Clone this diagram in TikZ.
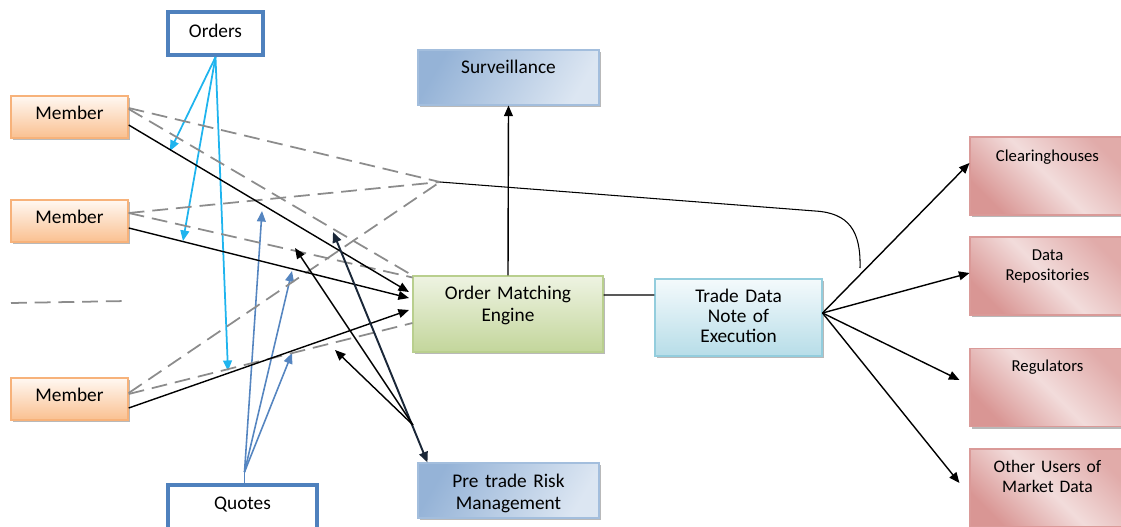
\documentclass[tikz,border=0pt]{standalone}
\usepackage{fontspec}
\setmainfont{Carlito}
\usetikzlibrary{arrows.meta,shadows}

\definecolor{edgeblue}{HTML}{4F81BD}
\definecolor{ordline}{HTML}{1FB4EE}
\definecolor{quoteline}{HTML}{5585C0}
\definecolor{navyline}{HTML}{1A2738}
\definecolor{dashgray}{HTML}{8C8C8C}
\definecolor{membtop}{HTML}{FFF8F2}
\definecolor{membbot}{HTML}{FAC090}
\definecolor{membedge}{HTML}{F7B27A}
\definecolor{survdark}{HTML}{95B3D7}
\definecolor{survlight}{HTML}{DCE6F2}
\definecolor{survedge}{HTML}{A3BEDD}
\definecolor{omelight}{HTML}{EEF3E2}
\definecolor{omedark}{HTML}{C3D69B}
\definecolor{omeedge}{HTML}{B9CF8E}
\definecolor{tradelight}{HTML}{F4FAFC}
\definecolor{tradedark}{HTML}{B7DDE8}
\definecolor{tradeedge}{HTML}{93CDDD}
\definecolor{pinklight}{HTML}{F2DCDB}
\definecolor{pinkdark}{HTML}{D99694}
\definecolor{pinkedge}{HTML}{DA9A98}

\tikzset{
  lift/.style={text height=7pt, text depth=#1},
  lift/.default=0pt,
  boxbase/.style={rectangle, inner sep=2pt, align=center, lift,
    font=\fontsize{11}{12.5}\selectfont},
  shadowed/.style={drop shadow={shadow xshift=1.4pt, shadow yshift=-1.4pt,
    fill=black!55, opacity=.5}},
  member/.style={boxbase, shadowed, draw=membedge, line width=.8pt,
    top color=membtop, bottom color=membbot,
    minimum width=2.34cm, minimum height=.84cm, text width=2.1cm},
  srcbox/.style={boxbase, draw=edgeblue, line width=2.4pt, fill=white},
  bluebox/.style={boxbase, shadowed, draw=survedge, line width=.6pt,
    left color=survdark, right color=survlight, shading angle=60,
    minimum width=3.62cm, minimum height=1.1cm, text width=3.3cm},
  greenbox/.style={boxbase, shadowed, draw=omeedge, line width=.6pt,
    top color=omelight, bottom color=omedark,
    minimum width=3.8cm, minimum height=1.52cm, text width=3.5cm},
  cyanbox/.style={boxbase, shadowed, draw=tradeedge, line width=.6pt,
    top color=tradelight, bottom color=tradedark,
    minimum width=3.34cm, minimum height=1.54cm, text width=3cm,
    font=\fontsize{11}{11.4}\selectfont},
  pinkbox/.style={boxbase, shadowed, draw=pinkedge, line width=.6pt,
    left color=pinkdark, right color=pinkdark!80, middle color=pinklight,
    shading angle=135,
    minimum width=3.1cm, minimum height=1.56cm, text width=2.8cm,
    font=\fontsize{9.5}{11.4}\selectfont},
  ordarrow/.style={ordline, line width=1pt, -{Triangle[length=6pt,width=5pt]}},
  quotepath/.style={quoteline, line width=.9pt},
  quotearrow/.style={quotepath, -{Triangle[length=6pt,width=5pt]}},
  blackarrow/.style={black, line width=.8pt, -{Triangle[length=6pt,width=5pt]}},
  navyarrow/.style={navyline, line width=1.1pt,
    {Triangle[length=6pt,width=5pt]}-{Triangle[length=6pt,width=5pt]}},
  dashline/.style={dashgray, line width=1pt, dash pattern=on 9pt off 4.5pt},
  thinline/.style={black, line width=.6pt}
}

\begin{document}
\begin{tikzpicture}
  \useasboundingbox (0,0) rectangle (22.42,-10.54);

  % boxes
  \node[member, lift=.16cm] (m1) at (1.39,-2.34) {Member};
  \node[member, lift=.16cm] (m2) at (1.39,-4.42) {Member};
  \node[member, lift=.16cm] (m3) at (1.39,-7.98) {Member};
  \node[srcbox, minimum width=1.9cm, minimum height=.86cm, lift=.1cm] (orders) at (4.31,-.67) {Orders};
  \node[srcbox, minimum width=2.98cm, minimum height=.94cm, lift=.22cm] (quotes) at (4.85,-10.17) {Quotes};
  \node[bluebox, lift=.42cm] (surv) at (10.17,-1.55) {Surveillance};
  \node[bluebox, lift=.38cm] (prm) at (10.17,-9.81) {Pre trade Risk\\Management};
  \node[greenbox, lift=.84cm] (ome) at (10.16,-6.28) {Order Matching\\Engine};
  \node[cyanbox, lift=.86cm] (trade) at (14.77,-6.35) {Trade Data\\Note of\\Execution};
  \node[pinkbox, lift=.84cm] (clear) at (20.95,-3.52) {Clearinghouses};
  \node[pinkbox, lift=.88cm] (datarep) at (20.95,-5.52) {Data\\Repositories};
  \node[pinkbox, lift=.9cm] (regul) at (20.95,-7.75) {Regulators};
  \node[pinkbox, lift=.88cm, font=\fontsize{10}{11.8}\selectfont] (others) at (20.95,-9.76) {Other Users of\\Market Data};

  \draw[dashline] (.22,-6.06) -- (2.54,-6.02);

  % orders and quotes
  \coordinate (o1) at (3.40,-3.02);
  \coordinate (o2) at (3.66,-4.82);
  \coordinate (o3) at (4.56,-7.42);
  \foreach \t in {o1,o2,o3}
    \draw[ordarrow] (orders.south) -- (\t);

  \coordinate (qfork) at (4.89,-9.44);
  \coordinate (q1) at (5.24,-4.22);
  \coordinate (q2) at (5.84,-5.42);
  \coordinate (q3) at (5.84,-7.06);
  \draw[quotepath] (qfork |- quotes.north) -- (qfork);
  \foreach \t in {q1,q2,q3}
    \draw[quotearrow] (qfork) -- (\t);

  % members
  \coordinate (join) at (8.8,-3.64);
  \draw[dashline] ([yshift=.18cm]m1.east) -- (join);
  \draw[dashline] ([yshift=.16cm]m1.east) -- (ome.north west);
  \draw[dashline] ([yshift=.16cm]m2.east) -- (join);
  \draw[dashline] ([yshift=.16cm]m2.east) -- ([yshift=-.04cm]ome.north west);
  \draw[dashline] ([yshift=.12cm]m3.east) -- (join);
  \draw[dashline] ([yshift=.1cm]m3.east) -- ([yshift=-.18cm]ome.west);
  \draw[blackarrow] ([yshift=-.16cm]m1.east) -- ([xshift=-2pt,yshift=.44cm]ome.west);
  \draw[blackarrow] ([yshift=-.14cm]m2.east) -- ([xshift=-2pt,yshift=.32cm]ome.west);
  \draw[blackarrow] ([yshift=-.18cm]m3.east) -- ([xshift=-2pt,yshift=.08cm]ome.west);

  % risk management
  \coordinate (riskup) at (6.66,-4.64);
  \coordinate (riskfork) at (8.26,-8.5);
  \coordinate (risk1) at (5.9,-4.96);
  \coordinate (risk2) at (6.7,-7.0);
  \draw[navyarrow] (riskup) -- ([xshift=.2cm]prm.north west);
  \draw[blackarrow] (riskfork) -- (risk1);
  \draw[blackarrow] (riskfork) -- (risk2);

  % engine and trade data
  \draw[blackarrow] (ome.north) -- (surv.south);
  \draw[thinline] ([yshift=.38cm]ome.east) -- ([yshift=.45cm]trade.west);
  \coordinate (bend) at (16.3,-4.22);
  \coordinate (tail) at (17.2,-5.36);
  \draw[thinline] (join) -- (bend) .. controls (16.98,-4.26) and (17.22,-4.62) .. (tail);

  \draw[blackarrow] ([yshift=.09cm]trade.east) -- ([yshift=.26cm]clear.west);
  \draw[blackarrow] ([yshift=.09cm]trade.east) -- ([yshift=.06cm]datarep.west);
  \draw[blackarrow] ([yshift=.09cm]trade.east) -- ([xshift=-.2cm,yshift=.15cm]regul.west);
  \draw[blackarrow] ([yshift=.09cm]trade.east) -- ([xshift=-.2cm,yshift=.1cm]others.west);
\end{tikzpicture}
\end{document}
